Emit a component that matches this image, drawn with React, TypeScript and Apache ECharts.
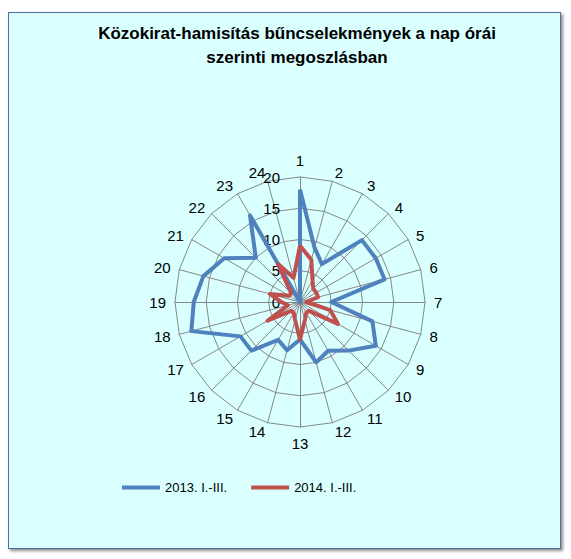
import React, { useEffect, useRef } from "react";
import * as echarts from "echarts";

const hours = ["1","2","3","4","5","6","7","8","9","10","11","12","13","14","15","16","17","18","19","20","21","22","23","24"];
const series2013 = [18, 9, 7, 14, 14, 14, 5, 12, 14, 11, 9, 10, 6, 8, 7, 11, 11, 18, 17, 16, 14, 10, 16, 0];
const series2014 = [9, 7, 4, 3, 3, 3, 1, 5, 7, 2, 2, 3, 6, 3, 2, 2, 6, 2, 3, 5, 2, 2, 7, 4];
const seriesNames = ["2013. I.-III.", "2014. I.-III."];
const titleLines = ["Közokirat-hamisítás bűncselekmények a nap órái", "szerinti megoszlásban"];
const axisMax = 20;

// ECharts radar runs counter-clockwise; reorder so hours run clockwise from the top.
const order = [0, ...hours.map((_, i) => hours.length - 1 - i).slice(0, hours.length - 1)];
const reorder = <T,>(arr: T[]) => order.map((i) => arr[i]);

export default function App() {
  const ref = useRef<HTMLDivElement>(null);
  useEffect(() => {
    if (!ref.current) return;
    const chart = echarts.init(ref.current, null, { renderer: "svg" });
    const font = "'Liberation Sans', Arial, sans-serif";
    chart.setOption({
      animation: false,
      graphic: titleLines.map((t, i) => ({
        type: "text",
        x: 297,
        y: 33 + i * 24,
        style: {
          text: t,
          textAlign: "center",
          textVerticalAlign: "middle",
          font: `bold 17px ${font}`,
          fill: "#000",
        },
      })),
      legend: {
        left: 117,
        top: 476,
        itemWidth: 38,
        itemHeight: 4,
        itemGap: 24,
        icon: "rect",
        textStyle: { fontSize: 13, color: "#000", fontFamily: font },
        data: seriesNames,
      },
      radar: {
        center: [300, 302],
        radius: 125,
        startAngle: 90,
        shape: "polygon",
        splitNumber: 4,
        nameGap: 9,
        axisName: { color: "#000", fontSize: 15, fontFamily: font },
        indicator: reorder(hours).map((h, i) =>
          i === 0
            ? {
                name: h,
                max: axisMax,
                min: 0,
                axisLabel: {
                  show: true,
                  margin: 20,
                  color: "#000",
                  fontSize: 15,
                  fontFamily: font,
                  showMinLabel: true,
                  showMaxLabel: true,
                },
              }
            : { name: h, max: axisMax, min: 0 }
        ),
        axisLine: { show: true, lineStyle: { color: "#878787", width: 1 } },
        splitLine: { show: true, lineStyle: { color: "#878787", width: 1 } },
        splitArea: { show: false },
        axisTick: { show: false },
        axisLabel: { show: false },
      },
      series: [
        {
          type: "radar",
          symbol: "none",
          data: [
            {
              name: seriesNames[0],
              value: reorder(series2013),
              lineStyle: { color: "#4F81BD", width: 4 },
              itemStyle: { color: "#4F81BD" },
            },
            {
              name: seriesNames[1],
              value: reorder(series2014),
              lineStyle: { color: "#C0504D", width: 4 },
              itemStyle: { color: "#C0504D" },
            },
          ],
        },
      ],
    });
    return () => chart.dispose();
  }, []);

  return (
    <div style={{ position: "fixed", left: 0, top: 0, width: 571, height: 559, background: "#fff" }}>
      <div
        style={{
          position: "absolute",
          left: 8,
          top: 12,
          width: 553,
          height: 537,
          boxSizing: "border-box",
          background: "#D9FFFF",
          border: "1px solid #4A6E9F",
          boxShadow: "2px 2px 3px rgba(0,0,0,0.45)",
        }}
      />
      <div ref={ref} style={{ position: "absolute", left: 0, top: 0, width: 571, height: 559 }} />
    </div>
  );
}
